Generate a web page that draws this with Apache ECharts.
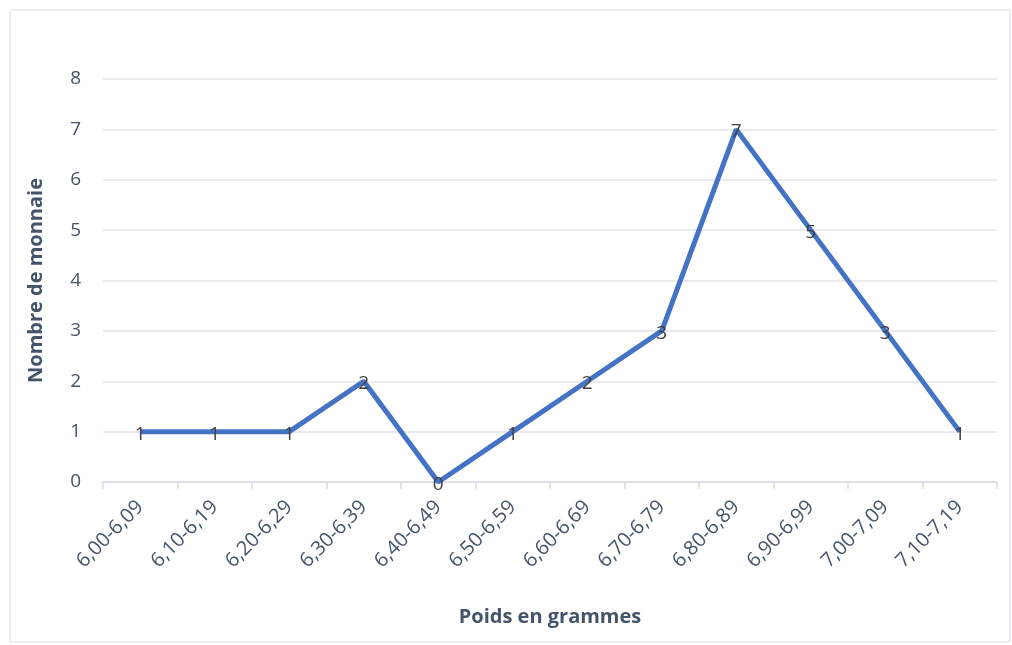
<!DOCTYPE html>
<html>
<head>
<meta charset="utf-8">
<script src="https://cdn.jsdelivr.net/npm/echarts@6/dist/echarts.min.js"></script>
<style>
  html, body { margin: 0; padding: 0; background: #fff; }
  #chart { width: 1012px; height: 645px; }
</style>
</head>
<body>
<div id="chart"></div>
<script>
const categories = ['6,00-6,09', '6,10-6,19', '6,20-6,29', '6,30-6,39', '6,40-6,49', '6,50-6,59',
  '6,60-6,69', '6,70-6,79', '6,80-6,89', '6,90-6,99', '7,00-7,09', '7,10-7,19'];
const counts = [1, 1, 1, 2, 0, 1, 2, 3, 7, 5, 3, 1];

const textColor = '#44546a';
const fontFamily = '"Open Sans", "Liberation Sans", sans-serif';

const myChart = echarts.init(document.getElementById('chart'));
const option = {
  animation: false,
  graphic: [{
    type: 'rect',
    shape: { x: 10, y: 10, width: 1000, height: 632 },
    style: { fill: 'none', stroke: '#d9dce3', lineWidth: 1 }
  }],
  grid: { left: 103, right: 15, top: 79, bottom: 163 },
  xAxis: {
    type: 'category',
    data: categories,
    boundaryGap: true,
    name: 'Poids en grammes',
    nameLocation: 'middle',
    nameGap: 125,
    nameTextStyle: { color: textColor, fontSize: 20, fontWeight: 'bold', fontFamily: fontFamily },
    axisLine: { lineStyle: { color: '#d9dce3', width: 1.5 } },
    axisTick: { show: true, length: 7, lineStyle: { color: '#d9dce3', width: 1.5 } },
    axisLabel: { rotate: 45, margin: 22, color: textColor, fontSize: 20, fontFamily: fontFamily, interval: 0 }
  },
  yAxis: {
    type: 'value',
    min: 0,
    max: 8,
    interval: 1,
    name: 'Nombre de monnaie',
    nameLocation: 'middle',
    nameGap: 57,
    nameTextStyle: { color: textColor, fontSize: 20, fontWeight: 'bold', fontFamily: fontFamily },
    axisLine: { show: false },
    axisTick: { show: false },
    axisLabel: { margin: 22, color: textColor, fontSize: 19, fontFamily: fontFamily },
    splitLine: { lineStyle: { color: '#e1e3e8', width: 1.5 } }
  },
  series: [{
    type: 'line',
    data: counts,
    symbol: 'circle',
    symbolSize: 0,
    showSymbol: true,
    lineStyle: { color: '#4472c4', width: 5 },
    itemStyle: { color: '#4472c4' },
    label: {
      show: true,
      position: 'top',
      distance: 0,
      offset: [0, 12],
      color: '#404040',
      fontSize: 19,
      fontFamily: fontFamily
    }
  }]
};

myChart.setOption(option);
</script>
</body>
</html>
